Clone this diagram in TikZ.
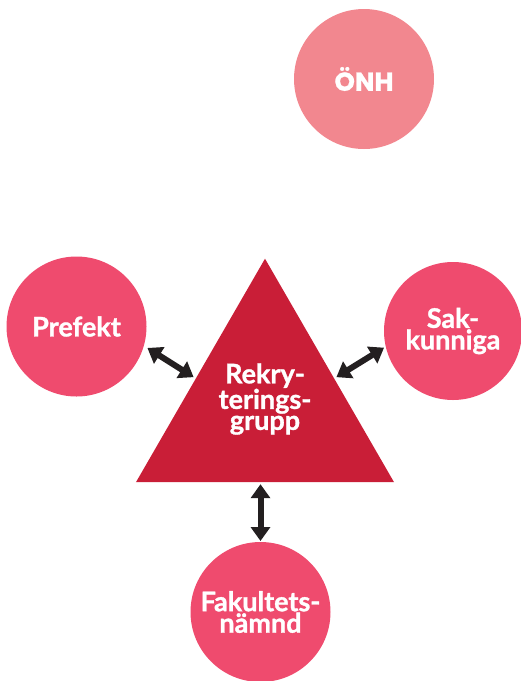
\documentclass[tikz,border=0pt]{standalone}
\usepackage{fontspec}
\setmainfont{Lato}[BoldFeatures={FakeBold=1.2}]
\newfontfamily\onhfont{Poppins}[BoldFeatures={FakeBold=0.8}]
\usetikzlibrary{arrows.meta,shapes.geometric,calc}
\definecolor{RolePink}{HTML}{EF4B6E}
\definecolor{RoleLight}{HTML}{F2878F}
\definecolor{GroupRed}{HTML}{C91E37}
\definecolor{LinkDark}{HTML}{231F20}
\begin{document}
\begin{tikzpicture}[x=1pt,y=-1pt,
  role/.style={circle,fill=RolePink,minimum size=140pt,inner sep=0pt,outer sep=0pt,text=white,align=center,font=\fontsize{27}{21.5}\selectfont\bfseries},
  group/.style={regular polygon,regular polygon sides=3,fill=GroupRed,minimum size=298pt,inner sep=0pt,outer sep=0pt},
  link/.style={{Triangle[width=19pt,length=14pt]}-{Triangle[width=19pt,length=14pt]},line width=6pt,draw=LinkDark},
]
\useasboundingbox (0,0) rectangle (521,681);
\node[role,fill=RoleLight,font=\onhfont\fontsize{26}{21}\selectfont\bfseries] (onh) at (364,79) {ÖNH};
\node[role] (pre) at (76.5,326.5) {Prefekt};
\node[role,minimum size=138pt] (sak) at (453,331) {Sak-\\kunniga};
\node[role] (fak) at (260.5,612) {Fakultets-\\nämnd};
\node[group] (rek) at (265,407.7) {};
\node[text=white,align=center,font=\fontsize{27}{21}\selectfont\bfseries] (rektext) at (265,399) {Rekry-\\terings-\\grupp};
% arrows to the group
\draw[link] ($(pre.-17)+(4,1)$) -- ($(rek.corner 2)!0.47!(rek.corner 1)+(-3,0)$);
\draw[link] ($(sak.194)+(-2,0)$) -- ($(rek.corner 3)!0.47!(rek.corner 1)+(3,0)$);
\draw[link] ($(fak.north)+(0,-1)$) -- ($(fak.north |- rek.corner 2)+(0,2)$);
\end{tikzpicture}
\end{document}
